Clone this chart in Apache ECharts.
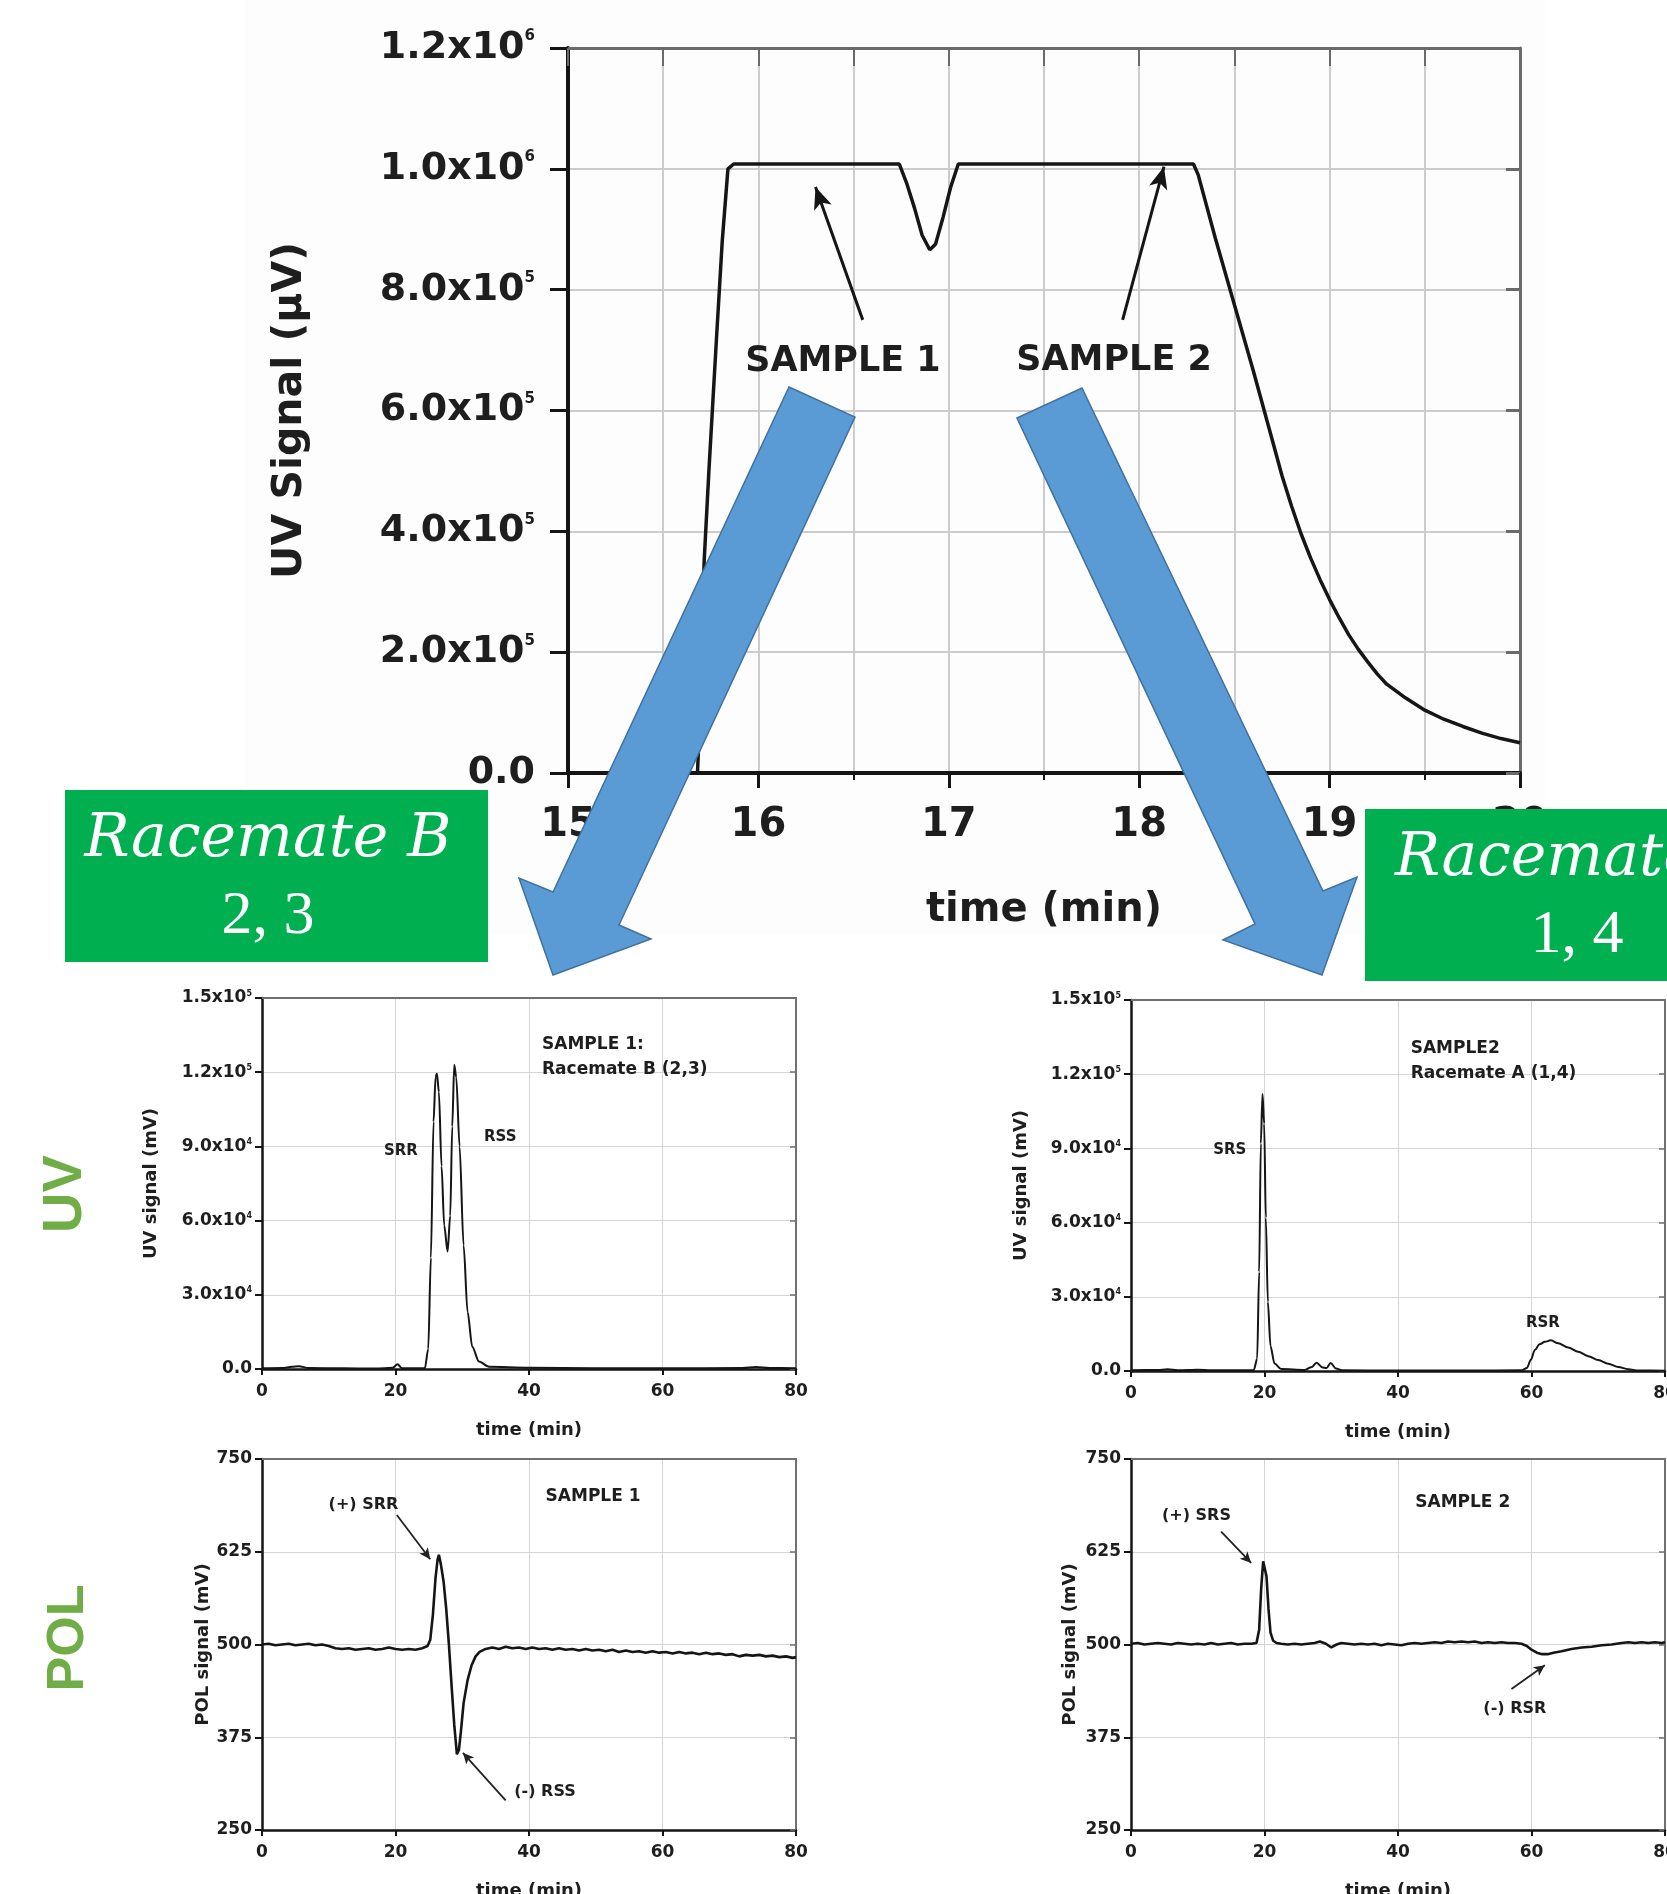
<!DOCTYPE html>
<html>
<head>
<meta charset="utf-8">
<script src="https://cdn.jsdelivr.net/npm/echarts@6/dist/echarts.min.js"></script>
<style>
html,body{margin:0;padding:0;background:#ffffff;}
#c{width:1667px;height:1894px;}
</style>
</head>
<body>
<div id="c"></div>
<script>
// ---------------- data ----------------
// Top chart: UV signal (µV) vs time (min) during injection of two samples
const topCurve = [
  [15.00,0],[15.68,0],[15.70,150000],[15.715,350000],[15.74,500000],[15.78,720000],[15.81,880000],
  [15.84,1000000],[15.87,1008000],[16.2,1008000],[16.5,1008000],[16.74,1008000],[16.78,975000],
  [16.82,935000],[16.86,890000],[16.90,866000],[16.93,875000],[16.97,920000],[17.01,970000],
  [17.05,1008000],[17.4,1008000],[17.8,1008000],[18.1,1008000],[18.285,1008000],[18.31,990000],
  [18.40,885000],[18.50,775000],[18.60,665000],[18.70,550000],[18.75,492000],[18.80,442000],
  [18.85,396000],[18.90,356000],[18.95,320000],[19.00,287000],[19.05,257000],[19.10,229000],
  [19.15,205000],[19.20,184000],[19.25,164000],[19.30,147000],[19.40,124000],[19.50,104000],
  [19.60,89000],[19.70,77000],[19.80,66000],[19.90,57000],[20.00,50000]
];
// Sample 1 UV chromatogram (Racemate B)
const uvSample1 = [
  [0,300],[3,400],[4.5,900],[5.5,1100],[7,400],[12,300],[17,200],[19.6,500],[20.3,1900],[21,300],
  [24.4,300],[24.9,8000],[25.3,45000],[25.7,100000],[26.0,118000],[26.2,119500],[26.5,112000],
  [26.9,82000],[27.3,58000],[27.8,47500],[28.2,62000],[28.5,98000],[28.8,123000],[29.1,118000],
  [29.6,90000],[30.2,50000],[30.8,23000],[31.5,9000],[32.5,3000],[34,900],[40,500],[50,300],
  [60,300],[72,400],[74,800],[76,400],[80,300]
];
// Sample 2 UV chromatogram (Racemate A)
const uvSample2 = [
  [0,300],[4,400],[5.5,700],[7,300],[10,500],[12,300],[18.4,400],[18.9,5000],[19.2,40000],
  [19.45,92000],[19.7,112000],[19.95,100000],[20.2,62000],[20.5,28000],[20.9,10000],[21.5,3000],
  [22.5,800],[26,400],[27.0,1500],[27.8,3300],[28.7,1400],[29.3,1200],[29.9,3200],[30.7,1000],
  [31.6,300],[40,200],[50,200],[58.6,300],[59.3,1200],[59.9,4500],[60.5,8500],[61.2,10800],
  [62.0,11800],[62.9,12400],[64,11200],[65.5,9500],[67,7800],[68.5,6000],[70,4400],[71.5,2900],
  [73,1600],[74.5,700],[76,200],[80,100]
];
// Sample 1 polarimeter trace
const polSample1 = [
  [0,500],[1,501],[2,499],[3,500],[4,501],[5,499],[6,500],[7,501],[8,499],[9,500],[10,498],[11,495],
  [12,494],[13,495],[14,493],[15,494],[16,495],[17,493],[18,494],[19,496],[20,494],[21,493],[22,494],
  [23,493],[24,495],[24.8,498],[25.2,506],[25.6,540],[26.0,590],[26.3,614],[26.5,621],[26.8,608],
  [27.2,585],[27.6,548],[28.0,500],[28.4,445],[28.8,392],[29.2,352],[29.5,358],[29.8,383],[30.2,421],
  [30.8,452],[31.4,472],[32.0,484],[32.6,490],[33.5,494],[34.5,496],[35.5,494],[36.5,497],[37.5,495],
  [38.5,496],[39.5,494],[40.5,496],[41.5,494],[42.5,495],[43.5,493],[44.5,495],[45.5,493],[46.5,494],
  [47.5,492],[48.5,494],[49.5,492],[50.5,493],[51.5,491],[52.5,493],[53.5,490],[54.5,492],[55.5,490],
  [56.5,491],[57.5,489],[58.5,491],[59.5,489],[60.5,490],[61.5,488],[62.5,490],[63.5,488],[64.5,489],
  [65.5,487],[66.5,489],[67.5,487],[68.5,488],[69.5,486],[70.5,487],[71.5,484],[72.5,486],[73.5,485],
  [74.5,486],[75.5,484],[76.5,485],[77.5,483],[78.5,484],[79.5,482],[80,483]
];
// Sample 2 polarimeter trace
const polSample2 = [
  [0,501],[1,502],[2,500],[3,501],[4,502],[5,501],[6,500],[7,502],[8,501],[9,500],[10,501],[11,500],
  [12,502],[13,500],[14,501],[15,502],[16,500],[17,501],[18,501],[18.8,502],[19.2,520],[19.5,575],
  [19.8,612],[20.0,614],[20.3,592],[20.6,548],[20.9,516],[21.3,505],[21.8,502],[22.5,501],[23.5,500],
  [24.5,501],[25.5,500],[26.5,501],[27.5,502],[28.3,504],[29.2,501],[30.0,496],[30.8,500],[31.5,502],
  [32.5,501],[33.5,500],[34.5,501],[35.5,500],[36.5,501],[37.5,499],[38.5,501],[39.5,500],[40.5,499],
  [41.5,501],[42.5,502],[43.5,501],[44.5,502],[45.5,503],[46.5,502],[47.5,504],[48.5,503],[49.5,504],
  [50.5,503],[51.5,504],[52.5,502],[53.5,503],[54.5,502],[55.5,503],[56.5,502],[57.5,502],[58.5,501],
  [59.3,498],[60.0,493],[60.8,489],[61.6,487],[62.4,487],[63.3,489],[64.5,491],[66.0,494],[67.5,496],
  [69.0,497],[70.5,499],[72.0,500],[73.5,502],[74.5,503],[75.5,502],[76.5,503],[77.5,502],[78.5,503],
  [79.5,502],[80,503]
];

// tick labels
const topXTicks = [15,16,17,18,19,20];
const topXLabels = ['15','16','17','18','19','20'];
const topYTicks = [0,200000,400000,600000,800000,1000000,1200000];
const topYLabels = ['0.0','2.0x10{s|5}','4.0x10{s|5}','6.0x10{s|5}','8.0x10{s|5}','1.0x10{s|6}','1.2x10{s|6}'];
const timeTicks = [0,20,40,60,80];
const timeLabels = ['0','20','40','60','80'];
const uvTicks = [0,30000,60000,90000,120000,150000];
const uvLabels = ['0.0','3.0x10{s|4}','6.0x10{s|4}','9.0x10{s|4}','1.2x10{s|5}','1.5x10{s|5}'];
const polTicks = [250,375,500,625,750];
const polLabels = ['250','375','500','625','750'];

// ---------------- helpers ----------------
function lab(ticks, labels) {
  return function (v) {
    for (let i = 0; i < ticks.length; i++) {
      if (Math.abs(ticks[i] - v) < 1e-6 * Math.max(1, Math.abs(ticks[i]))) return labels[i];
    }
    return '';
  };
}
const SANS = 'DejaVu Sans';
const INK = '#1e1e1e';

function note(coord, text, extra) {
  return {
    coord: coord, symbol: 'rect', symbolSize: 1,
    itemStyle: { color: 'rgba(0,0,0,0)' },
    label: Object.assign({ show: true, position: 'inside', formatter: text,
      color: INK, fontFamily: SANS, fontWeight: 'bold', fontSize: 16 }, extra || {})
  };
}
function arrow(from, to) {
  return [{ coord: from }, { coord: to }];
}

const xAxes = [];
const yAxes = [];

// top grid axes (grid 0)
xAxes.push({
  gridIndex: 0, type: 'value', position: 'bottom', min: 15, max: 20, interval: 1,
  axisLine: { show: true, onZero: false, lineStyle: { color: '#151515', width: 4 } },
  axisTick: { show: true, inside: false, length: 15, lineStyle: { color: '#151515', width: 3 } },
  minorTick: { show: true, splitNumber: 2, length: 7, lineStyle: { color: '#151515', width: 2 } },
  splitLine: { show: true, lineStyle: { color: '#cccccc', width: 2 } },
  minorSplitLine: { show: true, lineStyle: { color: '#cccccc', width: 2 } },
  axisLabel: { show: true, margin: 33, fontSize: 40, fontWeight: 'bold', fontFamily: SANS, color: INK,
    formatter: lab(topXTicks, topXLabels), showMinLabel: true, showMaxLabel: true },
  name: 'time (min)', nameLocation: 'middle', nameGap: 138, nameMoveOverlap: false,
  nameTextStyle: { fontSize: 40, fontWeight: 'bold', fontFamily: SANS, color: INK, verticalAlign: 'middle' }
});
xAxes.push({
  gridIndex: 0, type: 'value', position: 'top', min: 15, max: 20, interval: 0.5,
  axisLine: { show: true, onZero: false, lineStyle: { color: '#6a6a6a', width: 3 } },
  axisTick: { show: true, inside: true, length: 18, lineStyle: { color: '#6a6a6a', width: 2 } },
  axisLabel: { show: false }, splitLine: { show: false }
});
yAxes.push({
  gridIndex: 0, type: 'value', position: 'left', min: 0, max: 1200000, interval: 200000,
  axisLine: { show: true, onZero: false, lineStyle: { color: '#151515', width: 4 } },
  axisTick: { show: true, inside: false, length: 18, lineStyle: { color: '#151515', width: 3 } },
  splitLine: { show: true, lineStyle: { color: '#cccccc', width: 2 } },
  axisLabel: { show: true, margin: 33, fontSize: 38, fontWeight: 'bold', fontFamily: SANS, color: INK,
    formatter: lab(topYTicks, topYLabels), showMinLabel: true, showMaxLabel: true,
    rich: { s: { fontSize: 15, fontWeight: 'bold', fontFamily: SANS, color: INK, verticalAlign: 'top', lineHeight: 15 } } },
  name: 'UV Signal (µV)', nameLocation: 'middle', nameGap: 278, nameRotate: 90, nameMoveOverlap: false,
  nameTextStyle: { fontSize: 41, fontWeight: 'bold', fontFamily: SANS, color: INK, verticalAlign: 'middle' }
});
yAxes.push({
  gridIndex: 0, type: 'value', position: 'right', min: 0, max: 1200000, interval: 200000,
  axisLine: { show: true, onZero: false, lineStyle: { color: '#6a6a6a', width: 3 } },
  axisTick: { show: true, inside: true, length: 14, lineStyle: { color: '#6a6a6a', width: 3 } },
  axisLabel: { show: false }, splitLine: { show: false }
});

function bottomGrid(g, yMin, yMax, yInt, yTicks, yLabels, yName, yGap) {
  xAxes.push({
    gridIndex: g, type: 'value', position: 'bottom', min: 0, max: 80, interval: 20,
    axisLine: { show: true, onZero: false, lineStyle: { color: '#151515', width: 2.5 } },
    axisTick: { show: true, inside: false, length: 6, lineStyle: { color: '#151515', width: 2 } },
    splitLine: { show: true, lineStyle: { color: '#d4d4d4', width: 1 } },
    axisLabel: { show: true, margin: 14, fontSize: 17, fontWeight: 'bold', fontFamily: SANS, color: INK,
      formatter: lab(timeTicks, timeLabels), showMinLabel: true, showMaxLabel: true },
    name: 'time (min)', nameLocation: 'middle', nameGap: 61, nameMoveOverlap: false,
    nameTextStyle: { fontSize: 18, fontWeight: 'bold', fontFamily: SANS, color: INK, verticalAlign: 'middle' }
  });
  xAxes.push({
    gridIndex: g, type: 'value', position: 'top', min: 0, max: 80, interval: 20,
    axisLine: { show: true, onZero: false, lineStyle: { color: '#707070', width: 2 } },
    axisTick: { show: false }, axisLabel: { show: false }, splitLine: { show: false }
  });
  yAxes.push({
    gridIndex: g, type: 'value', position: 'left', min: yMin, max: yMax, interval: yInt,
    axisLine: { show: true, onZero: false, lineStyle: { color: '#151515', width: 2.5 } },
    axisTick: { show: true, inside: false, length: 7, lineStyle: { color: '#151515', width: 2 } },
    splitLine: { show: true, lineStyle: { color: '#d4d4d4', width: 1 } },
    axisLabel: { show: true, margin: 10, fontSize: 17, fontWeight: 'bold', fontFamily: SANS, color: INK,
      formatter: lab(yTicks, yLabels), showMinLabel: true, showMaxLabel: true,
      rich: { s: { fontSize: 8, fontWeight: 'bold', fontFamily: SANS, color: INK, verticalAlign: 'top', lineHeight: 8 } } },
    name: yName, nameLocation: 'middle', nameGap: yGap, nameRotate: 90, nameMoveOverlap: false,
    nameTextStyle: { fontSize: 18, fontWeight: 'bold', fontFamily: SANS, color: INK, verticalAlign: 'middle' }
  });
  yAxes.push({
    gridIndex: g, type: 'value', position: 'right', min: yMin, max: yMax, interval: yInt,
    axisLine: { show: true, onZero: false, lineStyle: { color: '#707070', width: 2 } },
    axisTick: { show: true, inside: true, length: 6, lineStyle: { color: '#707070', width: 1.5 } },
    axisLabel: { show: false }, splitLine: { show: false }
  });
}
bottomGrid(1, 0, 150000, 30000, uvTicks, uvLabels, 'UV signal (mV)', 111);
bottomGrid(2, 0, 150000, 30000, uvTicks, uvLabels, 'UV signal (mV)', 110);
bottomGrid(3, 250, 750, 125, polTicks, polLabels, 'POL signal (mV)', 59);
bottomGrid(4, 250, 750, 125, polTicks, polLabels, 'POL signal (mV)', 61);

const thinArrowLine = { color: '#222', width: 1.8, type: 'solid' };

const option = {
  animation: false,
  backgroundColor: '#ffffff',
  grid: [
    { left: 568, top: 48, width: 952, height: 725, containLabel: false, outerBoundsMode: 'none' },
    { left: 262, top: 998, width: 534, height: 371, containLabel: false, outerBoundsMode: 'none' },
    { left: 1131, top: 1000, width: 534, height: 371, containLabel: false, outerBoundsMode: 'none' },
    { left: 262, top: 1459, width: 534, height: 371, containLabel: false, outerBoundsMode: 'none' },
    { left: 1131, top: 1459, width: 534, height: 371, containLabel: false, outerBoundsMode: 'none' }
  ],
  xAxis: xAxes,
  yAxis: yAxes,
  series: [
    {
      type: 'line', xAxisIndex: 0, yAxisIndex: 0, data: topCurve, showSymbol: false, silent: true,
      lineStyle: { color: '#161616', width: 3.5 },
      markPoint: { silent: true, data: [
        note([16.444, 680000], 'SAMPLE 1', { fontSize: 35 }),
        note([17.868, 682000], 'SAMPLE 2', { fontSize: 35 })
      ] },
      markLine: { silent: true, symbol: ['none', 'arrow'], symbolSize: [14, 22],
        label: { show: false }, lineStyle: { color: '#151515', width: 3, type: 'solid' },
        data: [ arrow([16.548, 750000], [16.30, 970000]), arrow([17.913, 750000], [18.13, 1003500]) ] }
    },
    {
      type: 'line', xAxisIndex: 2, yAxisIndex: 2, data: uvSample1, showSymbol: false, silent: true,
      smooth: 0.3, smoothMonotone: 'x',
      lineStyle: { color: '#151515', width: 2 },
      markPoint: { silent: true, data: [
        note([41.95, 126100], 'SAMPLE 1:\nRacemate B (2,3)', { align: 'left', fontSize: 17, lineHeight: 25 }),
        note([20.8, 88100], 'SRR', { fontSize: 15 }),
        note([35.7, 93800], 'RSS', { fontSize: 15 })
      ] }
    },
    {
      type: 'line', xAxisIndex: 4, yAxisIndex: 4, data: uvSample2, showSymbol: false, silent: true,
      smooth: 0.3, smoothMonotone: 'x',
      lineStyle: { color: '#151515', width: 2 },
      markPoint: { silent: true, data: [
        note([41.9, 125300], 'SAMPLE2\nRacemate A (1,4)', { align: 'left', fontSize: 17, lineHeight: 25 }),
        note([14.8, 89300], 'SRS', { fontSize: 15 }),
        note([61.7, 19400], 'RSR', { fontSize: 15 })
      ] }
    },
    {
      type: 'line', xAxisIndex: 6, yAxisIndex: 6, data: polSample1, showSymbol: false, silent: true,
      lineStyle: { color: '#151515', width: 2.6 },
      markPoint: { silent: true, data: [
        note([49.6, 699], 'SAMPLE 1', { fontSize: 17 }),
        note([15.2, 688], '(+) SRR', { fontSize: 16 }),
        note([42.4, 301.6], '(-) RSS', { fontSize: 16 })
      ] },
      markLine: { silent: true, symbol: ['none', 'arrow'], symbolSize: [8, 11],
        label: { show: false }, lineStyle: thinArrowLine,
        data: [ arrow([20.2, 674.5], [25.2, 615]), arrow([36.5, 290], [30.1, 354]) ] }
    },
    {
      type: 'line', xAxisIndex: 8, yAxisIndex: 8, data: polSample2, showSymbol: false, silent: true,
      lineStyle: { color: '#151515', width: 2.6 },
      markPoint: { silent: true, data: [
        note([49.7, 691], 'SAMPLE 2', { fontSize: 17 }),
        note([9.8, 673.6], '(+) SRS', { fontSize: 16 }),
        note([57.5, 413], '(-) RSR', { fontSize: 16 })
      ] },
      markLine: { silent: true, symbol: ['none', 'arrow'], symbolSize: [8, 11],
        label: { show: false }, lineStyle: thinArrowLine,
        data: [ arrow([13.5, 652], [18.0, 610]), arrow([57.0, 440], [62.0, 472]) ] }
    }
  ],
  graphic: [
    { type: 'rect', silent: true, z: -10, shape: { x: 245, y: 0, width: 1300, height: 935 },
      style: { fill: '#fdfdfd' } },
    { type: 'polygon', silent: true, z: 50,
      shape: { points: [[789,387],[855,417],[619,925],[651,939],[553,975],[519,878],[553,892]] },
      style: { fill: '#5B9BD5', stroke: '#41719C', lineWidth: 1.5 } },
    { type: 'polygon', silent: true, z: 50,
      shape: { points: [[1017,418],[1082,388],[1323,891],[1357,877],[1322,975],[1223,940],[1255,924]] },
      style: { fill: '#5B9BD5', stroke: '#41719C', lineWidth: 1.5 } },
    { type: 'rect', silent: true, z: 60, shape: { x: 65, y: 790, width: 423, height: 172 },
      style: { fill: '#00B050' } },
    { type: 'text', silent: true, z: 61, x: 268, y: 840,
      style: { text: 'Racemate B', fontSize: 60, fontStyle: 'italic', fontFamily: 'DejaVu Serif', fill: '#ffffff',
        align: 'center', verticalAlign: 'middle' } },
    { type: 'text', silent: true, z: 61, x: 268, y: 917,
      style: { text: '2, 3', fontSize: 62, fontFamily: 'Liberation Serif', fill: '#ffffff',
        align: 'center', verticalAlign: 'middle' } },
    { type: 'rect', silent: true, z: 60, shape: { x: 1365, y: 809, width: 423, height: 172 },
      style: { fill: '#00B050' } },
    { type: 'text', silent: true, z: 61, x: 1578, y: 859,
      style: { text: 'Racemate A', fontSize: 60, fontStyle: 'italic', fontFamily: 'DejaVu Serif', fill: '#ffffff',
        align: 'center', verticalAlign: 'middle' } },
    { type: 'text', silent: true, z: 61, x: 1577, y: 936,
      style: { text: '1, 4', fontSize: 62, fontFamily: 'Liberation Serif', fill: '#ffffff',
        align: 'center', verticalAlign: 'middle' } },
    { type: 'text', silent: true, z: 61, x: 66, y: 1194, rotation: Math.PI / 2,
      style: { text: 'UV', fontSize: 56, fontWeight: 'bold', fontFamily: 'Liberation Sans', fill: '#70AD47',
        align: 'center', verticalAlign: 'middle' } },
    { type: 'text', silent: true, z: 61, x: 69, y: 1638, rotation: Math.PI / 2,
      style: { text: 'POL', fontSize: 52, fontWeight: 'bold', fontFamily: 'Liberation Sans', fill: '#70AD47',
        align: 'center', verticalAlign: 'middle' } }
  ]
};

const chart = echarts.init(document.getElementById('c'), null, { renderer: 'canvas', width: 1667, height: 1894 });
chart.setOption(option);
</script>
</body>
</html>
